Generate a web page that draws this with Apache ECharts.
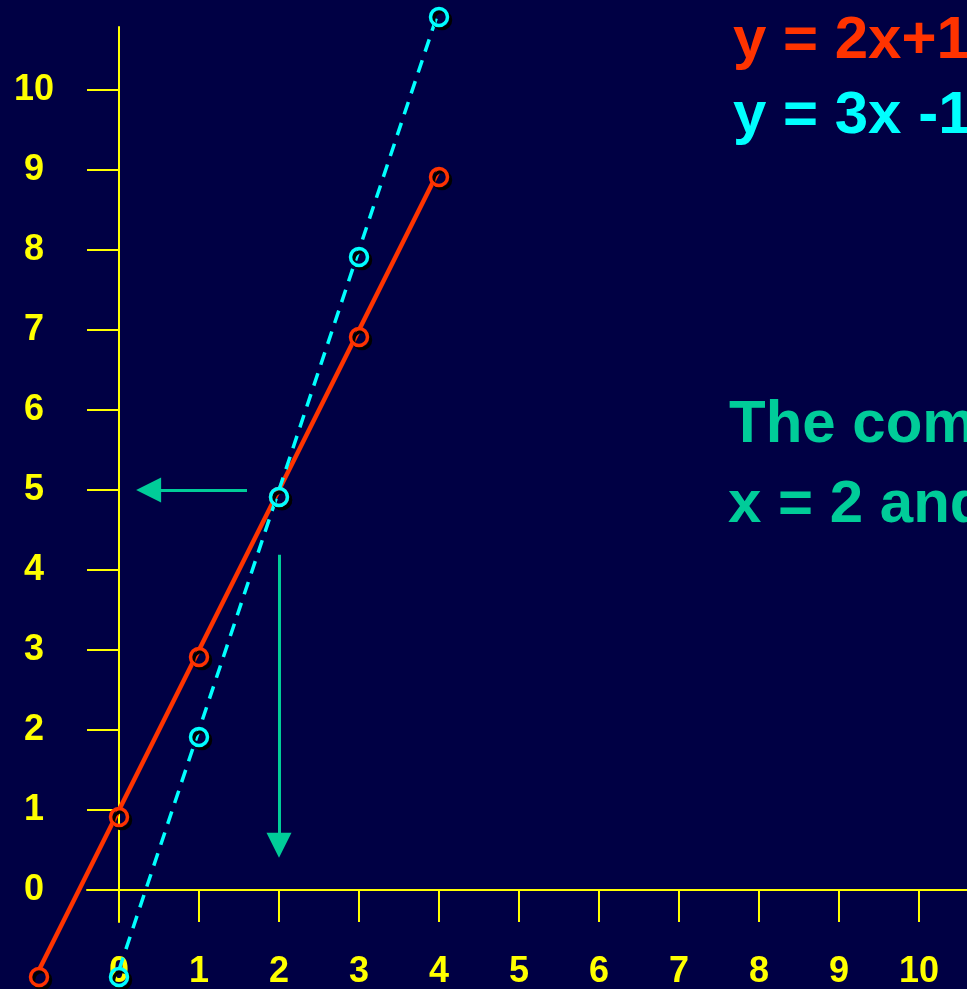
<!DOCTYPE html>
<html>
<head>
<meta charset="utf-8">
<title>y = 2x+1 and y = 3x-1</title>
<script src="https://cdn.jsdelivr.net/npm/echarts@6/dist/echarts.min.js"></script>
<style>
  html, body { margin: 0; padding: 0; background: #000044; }
  #chart { width: 967px; height: 989px; }
</style>
</head>
<body>
<div id="chart"></div>
<script>
// tick values on both axes
var xTicks = [0, 1, 2, 3, 4, 5, 6, 7, 8, 9, 10];
var yTicks = [0, 1, 2, 3, 4, 5, 6, 7, 8, 9, 10];

// y = 2x + 1
var redX = [-1, 0, 1, 2, 3, 4];
var redY = [-1, 1, 3, 5, 7, 9];
// y = 3x - 1
var cyanX = [0, 1, 2, 3, 4];
var cyanY = [-1, 2, 5, 8, 11];

// arrows: [fromX, fromY, toX, toY]
var arrowToY = [1.6, 5, 0.37, 5];
var arrowToX = [2, 4.19, 2, 0.56];

var eqRed = 'y = 2x+1';
var eqCyan = 'y = 3x -1';
var note1 = 'The common solution is';
var note2 = 'x = 2 and y = 5';

var YELLOW = '#ffff00', RED = '#ff3300', CYAN = '#00ffff', TEAL = '#00cc99';
var FONT = '"Liberation Sans", Arial, sans-serif';
var UNIT = 80; // px per unit, both axes

function pairs(xs, ys) {
    return xs.map(function (x, i) { return [x, ys[i]]; });
}

var chart = echarts.init(document.getElementById('chart'));

var axisLabel = {
    color: YELLOW,
    fontSize: 36,
    fontWeight: 'bold',
    fontFamily: FONT,
    textShadowColor: '#000000',
    textShadowOffsetX: 2,
    textShadowOffsetY: 2
};

function txt(text, x, y, color) {
    return {
        type: 'text',
        left: x,
        top: y,
        silent: true,
        style: {
            text: text,
            fill: color,
            font: 'bold 60px ' + FONT,
            textShadowColor: '#000000',
            textShadowOffsetX: 3,
            textShadowOffsetY: 3
        }
    };
}

var markerStyle = {
    color: 'transparent',
    borderWidth: 3.5,
    shadowColor: '#000000',
    shadowOffsetX: 3,
    shadowOffsetY: 3
};

var hidden = {
    type: 'value',
    show: false,
    splitLine: { show: false }
};

chart.setOption({
    backgroundColor: '#000044',
    animation: false,
    grid: [
        // visible axes
        { left: 87, top: 27, width: 11.4 * UNIT, height: 895, containLabel: false, outerBoundsMode: 'none' },
        // wider plotting area, same scale, so the lines are never clipped
        { left: 119 - 1.5 * UNIT, top: 890 - 11.5 * UNIT, width: 12.5 * UNIT, height: 13 * UNIT,
          containLabel: false, outerBoundsMode: 'none' }
    ],
    xAxis: [
        {
            type: 'value',
            gridIndex: 0,
            min: -0.4,
            max: 11,
            splitLine: { show: false },
            axisLine: { onZero: true, lineStyle: { color: YELLOW, width: 2 } },
            axisTick: { customValues: xTicks, length: 32, lineStyle: { color: YELLOW, width: 2 } },
            axisLabel: Object.assign({ customValues: xTicks, margin: 50, verticalAlign: 'middle' }, axisLabel)
        },
        Object.assign({ gridIndex: 1, min: -1.5, max: 11 }, hidden)
    ],
    yAxis: [
        {
            type: 'value',
            gridIndex: 0,
            min: -0.4,
            max: 10.7875,
            splitLine: { show: false },
            axisLine: { onZero: true, lineStyle: { color: YELLOW, width: 2 } },
            axisTick: { customValues: yTicks.slice(1), length: 32, lineStyle: { color: YELLOW, width: 2 } },
            axisLabel: Object.assign({ customValues: yTicks, margin: 53, align: 'center' }, axisLabel)
        },
        Object.assign({ gridIndex: 1, min: -1.5, max: 11.5 }, hidden)
    ],
    series: [
        {
            type: 'line',
            xAxisIndex: 1,
            yAxisIndex: 1,
            data: pairs(redX, redY),
            clip: false,
            silent: true,
            symbol: 'circle',
            symbolSize: 17,
            symbolOffset: [0, 7],
            lineStyle: { color: RED, width: 4.5 },
            itemStyle: Object.assign({ borderColor: RED }, markerStyle),
            z: 3,
            markLine: {
                silent: true,
                symbol: ['none', 'triangle'],
                symbolSize: [25, 25],
                label: { show: false },
                lineStyle: { color: TEAL, width: 3, type: 'solid' },
                data: [
                    [{ coord: arrowToY.slice(0, 2) }, { coord: arrowToY.slice(2) }],
                    [{ coord: arrowToX.slice(0, 2) }, { coord: arrowToX.slice(2) }]
                ]
            }
        },
        {
            type: 'line',
            xAxisIndex: 1,
            yAxisIndex: 1,
            data: pairs(cyanX, cyanY),
            clip: false,
            silent: true,
            symbol: 'circle',
            symbolSize: 17,
            symbolOffset: [0, 7],
            lineStyle: { color: CYAN, width: 3.5, type: [13, 9] },
            itemStyle: Object.assign({ borderColor: CYAN }, markerStyle),
            z: 4
        }
    ],
    graphic: [
        txt(eqRed, 733, 11, RED),
        txt(eqCyan, 733, 86, CYAN),
        txt(note1, 729, 395, TEAL),
        txt(note2, 728, 475, TEAL)
    ]
});
</script>
</body>
</html>
